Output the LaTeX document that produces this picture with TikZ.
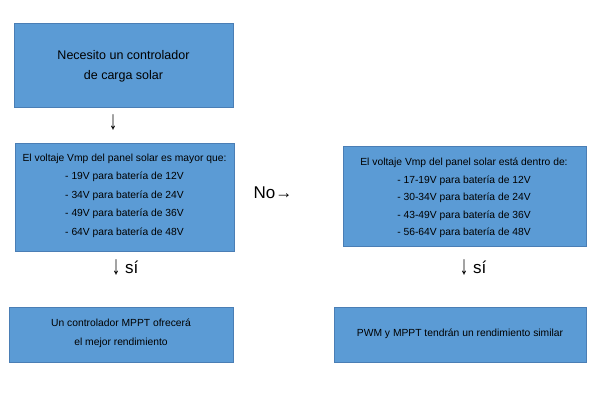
\documentclass[tikz,border=0pt]{standalone}
\usepackage{fontspec}
\setmainfont{Liberation Sans}
\definecolor{boxfill}{HTML}{5B9BD5}
\definecolor{boxline}{HTML}{4A7EB5}
\newcommand{\tallarrow}{\raisebox{-0.5pt}{\scalebox{1}[1.55]{↓}}}
\begin{document}
\begin{tikzpicture}[x=1pt,y=-1pt,
  box/.style={draw=boxline,line width=0.8pt,fill=boxfill,inner sep=0pt,anchor=north west},
  boxtext/.style={align=center,inner sep=0pt,text=black},
  biglabel/.style={inner sep=0pt,font=\fontsize{17}{20}\selectfont}]
\useasboundingbox[fill=white] (0,0) rectangle (600,400);
% boxes
\draw[box] (14,23) rectangle (233,107);
\draw[box] (15,143) rectangle (234,251);
\draw[box] (9,307) rectangle (233,362);
\draw[box] (343,146) rectangle (586,246);
\draw[box] (334,307) rectangle (586,362);
% texts
\node[boxtext,font=\fontsize{12.5}{20}\selectfont] (t1) at (123.5,66) {Necesito un controlador\\de carga solar};
\node[boxtext,font=\fontsize{10.3}{18.5}\selectfont] (t2) at (124.5,195.5) {El voltaje Vmp del panel solar es mayor que:\\- 19V para batería de 12V\\- 34V para batería de 24V\\- 49V para batería de 36V\\- 64V para batería de 48V};
\node[boxtext,font=\fontsize{10.3}{19}\selectfont] (t3) at (121,333) {Un controlador MPPT ofrecerá\\el mejor rendimiento};
\node[boxtext,font=\fontsize{10.3}{17.5}\selectfont] (t4) at (464,198) {El voltaje Vmp del panel solar está dentro de:\\- 17-19V para batería de 12V\\- 30-34V para batería de 24V\\- 43-49V para batería de 36V\\- 56-64V para batería de 48V};
\node[boxtext,font=\fontsize{10.3}{18}\selectfont] (t5) at (460,334) {PWM y MPPT tendrán un rendimiento similar};
% arrow labels
\node[biglabel] (a1) at (113,122) {\tallarrow};
\node[biglabel] (a2) at (273,193) {No→};
\node[biglabel] (a3) at (125,267) {\tallarrow\ sí};
\node[biglabel] (a4) at (473,267) {\tallarrow\ sí};
\end{tikzpicture}
\end{document}
